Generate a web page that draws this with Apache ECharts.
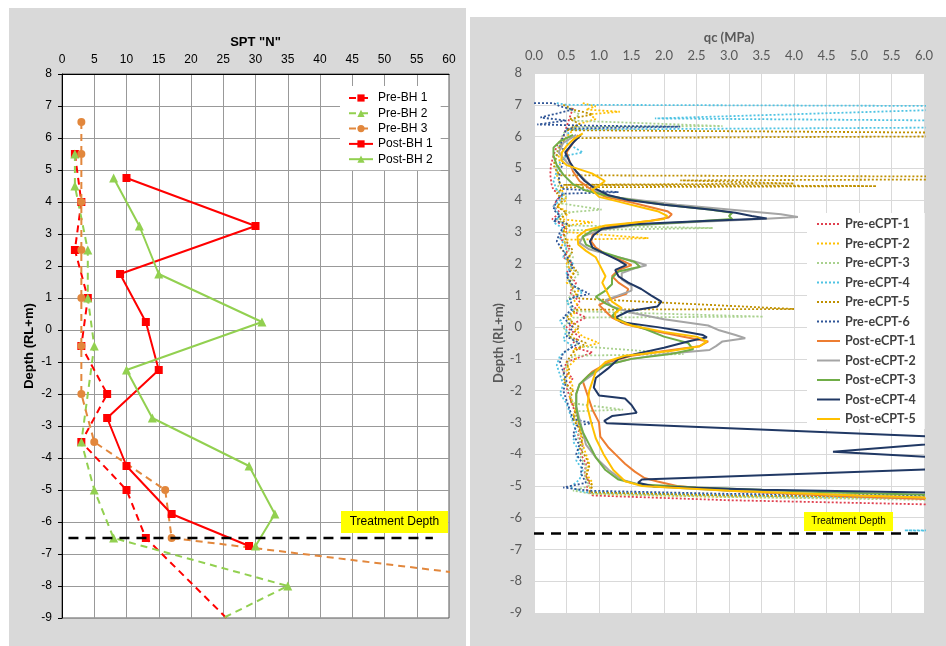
<!DOCTYPE html>
<html>
<head>
<meta charset="utf-8">
<script src="https://cdn.jsdelivr.net/npm/echarts@6/dist/echarts.min.js"></script>
<style>
  html, body { margin: 0; padding: 0; background: #fff; }
  #wrap { position: relative; width: 946px; height: 646px; overflow: hidden; }
  .panel { position: absolute; background: #d9d9d9; }
  #main { position: absolute; left: 0; top: 0; width: 946px; height: 646px; }
</style>
</head>
<body>
<div id="wrap">
  <div class="panel" style="left:9px;top:8px;width:457px;height:638px"></div>
  <div class="panel" style="left:470px;top:17px;width:476px;height:629px"></div>
  <div id="main"></div>
</div>
<script>
// ---- left chart: SPT "N" vs depth, points are [N, depth]
const sptTicks = [0, 5, 10, 15, 20, 25, 30, 35, 40, 45, 50, 55, 60]
const depthTicks = [8, 7, 6, 5, 4, 3, 2, 1, 0, -1, -2, -3, -4, -5, -6, -7, -8, -9]
const preBh1 = [[2, 5.5], [3, 4.0], [2, 2.5], [4, 1.0], [3, -0.5], [7, -2.0], [3, -3.5], [10, -5.0], [13, -6.5], [28, -9.5]]
const preBh2 = [[2, 5.5], [2, 4.5], [4, 2.5], [4, 1.0], [5, -0.5], [3, -3.5], [5, -5.0], [8, -6.5], [35, -8.0], [20, -9.5]]
const preBh3 = [[3, 6.5], [3, 5.5], [3, 4.0], [3, 2.5], [3, 1.0], [3, -0.5], [3, -2.0], [5, -3.5], [16, -5.0], [17, -6.5], [78, -8.0]]
const postBh1 = [[10, 4.75], [30, 3.25], [9, 1.75], [13, 0.25], [15, -1.25], [7, -2.75], [10, -4.25], [17, -5.75], [29, -6.75]]
const postBh2 = [[8, 4.75], [12, 3.25], [15, 1.75], [31, 0.25], [10, -1.25], [14, -2.75], [29, -4.25], [33, -5.75], [30, -6.75]]
const sptTreatment = [[1, -6.5], [57.5, -6.5]]

// ---- right chart: qc (MPa) vs depth, points are [qc, depth]
const qcTicks = [0, 0.5, 1, 1.5, 2, 2.5, 3, 3.5, 4, 4.5, 5, 5.5, 6]
const preCpt1 = [[0.6, 6.9], [0.55, 6.6], [0.5, 6.3], [0.45, 6.0], [0.35, 5.7], [0.3, 5.4], [0.26, 5.1], [0.25, 4.8], [0.27, 4.5], [0.3, 4.3], [0.45, 4.2], [0.35, 4.0], [0.3, 3.8], [0.4, 3.6], [0.28, 3.4], [0.45, 3.2], [0.5, 3.0], [0.4, 2.8], [0.55, 2.5], [0.45, 2.2], [0.6, 2.0], [0.5, 1.7], [0.65, 1.4], [0.55, 1.1], [0.7, 0.8], [0.6, 0.5], [0.8, 0.3], [0.5, 0.0], [0.7, -0.3], [0.55, -0.6], [0.9, -0.8], [0.5, -1.1], [0.45, -1.4], [0.6, -1.6], [0.5, -1.9], [0.55, -2.2], [0.6, -2.5], [0.65, -2.8], [0.7, -3.1], [0.68, -3.4], [0.75, -3.7], [0.72, -4.0], [0.8, -4.3], [0.78, -4.6], [0.85, -4.9], [0.8, -5.1], [0.9, -5.3], [3, -5.45], [6.5, -5.6]]
const preCpt2 = [[0.75, 7.05], [0.95, 6.95], [0.8, 6.85], [1.32, 6.78], [0.85, 6.7], [0.95, 6.55], [0.7, 6.4], [0.6, 6.2], [0.5, 6.0], [0.42, 5.7], [0.38, 5.4], [0.4, 5.1], [0.35, 4.8], [0.4, 4.5], [0.45, 4.2], [0.5, 4.0], [0.35, 3.8], [0.55, 3.6], [0.4, 3.4], [0.9, 3.3], [0.5, 3.2], [0.45, 3.0], [1.76, 2.8], [0.5, 2.75], [0.4, 2.5], [0.55, 2.2], [0.5, 2.0], [0.6, 1.7], [0.5, 1.4], [0.7, 1.2], [0.6, 0.9], [0.7, 0.6], [0.55, 0.3], [0.6, 0.0], [0.75, -0.3], [1.0, -0.5], [0.6, -0.7], [0.65, -1.0], [0.5, -1.3], [0.55, -1.6], [0.6, -1.9], [0.55, -2.2], [0.65, -2.5], [0.6, -2.8], [0.7, -3.1], [0.72, -3.4], [0.75, -3.7], [0.8, -4.0], [0.85, -4.3], [0.8, -4.6], [0.9, -4.9], [0.85, -5.1], [0.9, -5.25], [3, -5.35], [6.5, -5.4]]
const preCpt3 = [[0.5, 6.9], [0.7, 6.7], [0.6, 6.5], [2.9, 6.33], [0.6, 6.3], [0.45, 6.1], [0.4, 5.8], [0.35, 5.5], [0.33, 5.2], [0.35, 4.9], [0.4, 4.6], [0.35, 4.3], [0.5, 4.1], [0.4, 3.9], [1.04, 3.7], [0.45, 3.6], [0.35, 3.4], [0.5, 3.2], [2.75, 3.12], [0.55, 3.05], [0.45, 2.8], [0.5, 2.5], [0.6, 2.2], [0.5, 1.9], [0.7, 1.7], [0.55, 1.4], [0.6, 1.1], [0.5, 0.8], [0.65, 0.5], [3.53, 0.33], [0.6, 0.3], [0.45, 0.0], [0.55, -0.3], [0.7, -0.6], [2.3, -0.85], [0.6, -0.9], [0.5, -1.2], [0.45, -1.5], [0.5, -1.8], [0.55, -2.1], [0.6, -2.4], [1.37, -2.6], [0.65, -2.65], [0.62, -2.9], [0.7, -3.2], [0.68, -3.5], [0.75, -3.8], [0.72, -4.1], [0.8, -4.4], [0.78, -4.7], [0.85, -5.0], [0.6, -5.15], [0.9, -5.25], [3, -5.35], [6.5, -5.45]]
const preCpt4 = [[0.35, 7.05], [0.5, 7.0], [8, 6.95], [1.86, 6.57], [8, 6.48], [8, 6.3], [0.5, 6.22], [0.55, 6.0], [0.5, 5.8], [0.75, 5.5], [0.5, 5.4], [0.4, 5.2], [0.35, 4.9], [0.3, 4.6], [0.35, 4.3], [0.45, 4.2], [0.4, 4.0], [0.3, 3.8], [0.4, 3.5], [0.3, 3.3], [0.45, 3.1], [0.4, 2.8], [0.5, 2.5], [0.45, 2.2], [0.6, 2.0], [0.5, 1.7], [0.55, 1.4], [0.75, 1.1], [0.5, 0.8], [0.6, 0.5], [0.4, 0.2], [0.5, -0.1], [0.45, -0.4], [0.6, -0.6], [0.4, -0.9], [0.35, -1.2], [0.4, -1.5], [0.45, -1.8], [0.4, -2.1], [0.5, -2.4], [0.55, -2.7], [0.6, -3.0], [0.65, -3.3], [0.6, -3.6], [0.7, -3.9], [0.65, -4.2], [0.75, -4.5], [0.7, -4.8], [0.55, -5.05], [0.8, -5.2], [3, -5.3], [6.5, -5.4], [8, -6.38], [5.7, -6.4], [8, -6.45]]
const preCpt5 = [[0.45, 7.0], [0.6, 6.85], [0.9, 6.7], [0.55, 6.55], [0.7, 6.4], [0.5, 6.2], [8, 6.1], [8, 6.02], [0.5, 5.95], [0.4, 5.7], [0.35, 5.4], [0.3, 5.1], [0.35, 4.9], [0.4, 4.78], [8, 4.73], [8, 4.66], [2.25, 4.62], [4.0, 4.52], [0.45, 4.48], [5.27, 4.44], [0.45, 4.4], [0.35, 4.2], [0.45, 4.0], [0.35, 3.8], [0.5, 3.6], [0.4, 3.4], [0.55, 3.2], [0.45, 3.0], [0.5, 2.7], [0.6, 2.4], [0.5, 2.1], [0.65, 1.8], [0.55, 1.5], [0.6, 1.2], [0.7, 0.9], [4.0, 0.57], [0.65, 0.55], [0.5, 0.3], [0.7, 0.0], [0.55, -0.3], [0.8, -0.5], [0.6, -0.8], [0.5, -1.1], [0.55, -1.4], [0.45, -1.7], [0.6, -2.0], [0.55, -2.3], [0.65, -2.6], [0.6, -2.9], [0.7, -3.2], [0.75, -3.5], [0.7, -3.8], [0.8, -4.1], [0.85, -4.4], [0.8, -4.7], [0.9, -5.0], [0.85, -5.2], [3, -5.3], [6.5, -5.35]]
const preCpt6 = [[0.0, 7.05], [0.3, 7.05], [0.4, 6.95], [0.6, 6.85], [0.3, 6.7], [0.1, 6.6], [0.5, 6.5], [0.05, 6.38], [0.9, 6.34], [2.25, 6.31], [0.5, 6.25], [0.45, 6.0], [0.4, 5.7], [0.5, 5.5], [0.45, 5.2], [0.4, 4.9], [0.38, 4.6], [0.45, 4.35], [1.3, 4.25], [0.45, 4.2], [0.35, 4.0], [0.3, 3.7], [0.4, 3.5], [0.3, 3.35], [0.5, 3.25], [0.4, 3.0], [0.35, 2.7], [0.45, 2.4], [0.55, 2.1], [0.6, 1.9], [0.5, 1.6], [0.6, 1.3], [0.85, 1.05], [0.55, 0.9], [0.6, 0.6], [0.45, 0.3], [0.6, 0.0], [0.5, -0.3], [0.7, -0.5], [0.45, -0.8], [0.4, -1.1], [0.45, -1.4], [0.5, -1.7], [0.45, -2.0], [0.5, -2.3], [0.55, -2.6], [0.6, -2.9], [0.9, -3.02], [0.65, -3.1], [0.6, -3.4], [0.7, -3.7], [0.65, -4.0], [0.75, -4.3], [0.72, -4.6], [0.8, -4.9], [0.45, -5.05], [0.85, -5.15], [3, -5.25], [6.5, -5.3]]
const postCpt1 = [[0.68, 6.05], [0.6, 5.8], [0.5, 5.5], [0.55, 5.2], [0.6, 4.9], [0.7, 4.6], [0.9, 4.3], [1.1, 4.1], [1.45, 3.95], [1.75, 3.8], [2.05, 3.65], [2.12, 3.55], [2.07, 3.45], [1.8, 3.35], [1.4, 3.25], [1.0, 3.1], [0.9, 2.9], [0.88, 2.7], [0.95, 2.5], [1.1, 2.3], [1.35, 2.1], [1.5, 1.95], [1.3, 1.8], [1.2, 1.6], [1.3, 1.4], [1.45, 1.2], [1.42, 1.05], [1.2, 0.9], [1.0, 0.7], [1.1, 0.5], [1.2, 0.3], [1.4, 0.1], [1.8, -0.1], [2.3, -0.3], [2.68, -0.45], [2.55, -0.6], [2.0, -0.75], [1.5, -0.9], [1.15, -1.1], [0.9, -1.4], [0.75, -1.7], [0.8, -2.0], [0.85, -2.3], [0.9, -2.6], [1.0, -3.0], [1.02, -3.45], [1.15, -3.8], [1.3, -4.1], [1.4, -4.3], [1.55, -4.55], [1.7, -4.75], [1.9, -4.86], [2.2, -5.0], [3.0, -5.15], [4.5, -5.3], [6.5, -5.45]]
const postCpt2 = [[0.65, 6.05], [0.45, 5.8], [0.38, 5.5], [0.5, 5.2], [0.65, 4.9], [0.8, 4.6], [0.95, 4.3], [1.2, 4.1], [1.6, 4.0], [2.2, 3.85], [3.0, 3.7], [3.8, 3.55], [4.06, 3.47], [3.5, 3.4], [2.4, 3.3], [1.5, 3.2], [1.0, 3.05], [0.75, 2.85], [0.7, 2.65], [0.85, 2.45], [1.2, 2.25], [1.5, 2.1], [1.73, 1.95], [1.55, 1.85], [1.35, 1.7], [1.35, 1.5], [1.5, 1.3], [1.5, 1.15], [1.3, 1.0], [1.1, 0.85], [1.2, 0.65], [1.5, 0.45], [2.0, 0.25], [2.68, 0.05], [2.85, -0.1], [3.1, -0.25], [3.25, -0.35], [2.9, -0.45], [2.8, -0.6], [2.7, -0.72], [2.0, -0.85], [1.5, -1.0], [1.1, -1.2], [0.9, -1.5], [0.7, -1.8], [0.65, -2.1], [0.65, -2.5], [0.7, -2.9], [0.75, -3.3], [0.8, -3.7], [0.95, -4.1], [1.15, -4.5], [1.35, -4.8], [1.7, -5.0], [3.0, -5.15], [5.0, -5.3], [6.5, -5.4]]
const postCpt3 = [[0.6, 6.05], [0.4, 5.85], [0.3, 5.65], [0.3, 5.4], [0.35, 5.1], [0.45, 4.8], [0.6, 4.5], [0.8, 4.3], [1.1, 4.15], [1.5, 4.0], [2.0, 3.85], [2.7, 3.7], [3.05, 3.6], [3.0, 3.5], [3.05, 3.4], [2.3, 3.3], [1.4, 3.2], [0.9, 3.05], [0.75, 2.85], [0.8, 2.6], [1.0, 2.4], [1.3, 2.2], [1.55, 2.05], [1.63, 1.9], [1.3, 1.75], [1.2, 1.55], [1.2, 1.35], [1.1, 1.15], [0.95, 0.95], [1.1, 0.75], [1.3, 0.55], [1.2, 0.35], [1.4, 0.15], [1.7, -0.05], [2.0, -0.3], [2.37, -0.5], [2.45, -0.7], [2.1, -0.85], [1.5, -1.0], [1.1, -1.2], [0.85, -1.5], [0.7, -1.8], [0.65, -2.1], [0.65, -2.5], [0.68, -2.9], [0.75, -3.3], [0.85, -3.7], [0.95, -4.1], [1.1, -4.5], [1.3, -4.8], [1.6, -4.95], [2.5, -5.05], [4.5, -5.2], [6.5, -5.3]]
const postCpt4 = [[0.72, 6.05], [0.6, 5.8], [0.48, 5.5], [0.55, 5.2], [0.65, 4.9], [0.78, 4.6], [0.95, 4.35], [1.15, 4.15], [1.45, 4.0], [2.0, 3.85], [2.7, 3.7], [3.1, 3.6], [3.35, 3.5], [3.58, 3.42], [2.7, 3.35], [1.6, 3.25], [1.05, 3.1], [0.92, 2.9], [0.86, 2.7], [0.9, 2.5], [1.1, 2.3], [1.3, 2.1], [1.42, 1.95], [1.25, 1.8], [1.3, 1.6], [1.45, 1.4], [1.65, 1.2], [1.8, 1.0], [1.96, 0.8], [1.9, 0.65], [1.45, 0.5], [1.25, 0.3], [1.35, 0.15], [1.9, 0.0], [2.2, -0.1], [2.6, -0.25], [2.66, -0.32], [2.37, -0.45], [2.0, -0.65], [1.55, -0.85], [1.3, -1.0], [1.14, -1.3], [0.95, -1.6], [0.92, -1.9], [1.0, -2.15], [1.4, -2.25], [1.5, -2.45], [1.58, -2.7], [1.2, -2.8], [1.08, -2.95], [1.12, -3.03], [6.5, -3.48], [6.5, -3.62], [4.6, -3.92], [6.5, -4.14], [6.5, -4.45], [1.66, -4.8], [1.6, -4.9], [1.85, -5.02], [3.5, -5.12], [6.5, -5.22]]
const postCpt5 = [[0.75, 6.1], [0.6, 5.9], [0.5, 5.7], [0.43, 5.5], [0.42, 5.25], [0.5, 5.1], [0.89, 4.84], [1.09, 4.6], [1.0, 4.45], [0.89, 4.32], [1.0, 4.1], [1.3, 3.95], [1.6, 3.8], [1.9, 3.65], [2.05, 3.5], [2.0, 3.4], [1.6, 3.3], [1.1, 3.2], [0.8, 3.05], [0.67, 2.85], [0.68, 2.6], [0.8, 2.4], [0.95, 2.2], [1.0, 2.0], [1.05, 1.8], [1.1, 1.6], [1.05, 1.4], [1.1, 1.2], [1.15, 1.0], [1.2, 0.8], [1.35, 0.6], [1.25, 0.45], [1.25, 0.25], [1.5, 0.05], [2.0, -0.15], [2.5, -0.3], [2.66, -0.45], [2.55, -0.6], [2.1, -0.75], [1.4, -0.9], [1.1, -1.1], [0.95, -1.4], [0.9, -1.7], [0.85, -2.0], [0.82, -2.5], [0.88, -3.0], [0.95, -3.5], [1.07, -4.0], [1.22, -4.5], [1.4, -4.85], [1.66, -5.0], [3.0, -5.15], [5.0, -5.3], [6.5, -5.4]]
const qcTreatment = [[0, -6.5], [6, -6.5]]

const leftFont = "'Liberation Sans', Arial, sans-serif"
const rightFont = "Lato, 'Open Sans', sans-serif"

const leftDefs = [
  ["Pre-BH 1", preBh1, "#ff0000", "rect", "dashed"],
  ["Pre-BH 2", preBh2, "#92d050", "triangle", "dashed"],
  ["Pre-BH 3", preBh3, "#e2873c", "circle", "dashed"],
  ["Post-BH 1", postBh1, "#ff0000", "rect", "solid"],
  ["Post-BH 2", postBh2, "#92d050", "triangle", "solid"],
]
const rightDefs = [
  ["Pre-eCPT-1", preCpt1, "#e0404f", "dotted"],
  ["Pre-eCPT-2", preCpt2, "#ffc000", "dotted"],
  ["Pre-eCPT-3", preCpt3, "#a9d18e", "dotted"],
  ["Pre-eCPT-4", preCpt4, "#4fc3e3", "dotted"],
  ["Pre-eCPT-5", preCpt5, "#bf9000", "dotted"],
  ["Pre-eCPT-6", preCpt6, "#2f5597", "dotted"],
  ["Post-eCPT-1", postCpt1, "#ed7d31", "solid"],
  ["Post-eCPT-2", postCpt2, "#a5a5a5", "solid"],
  ["Post-eCPT-3", postCpt3, "#70ad47", "solid"],
  ["Post-eCPT-4", postCpt4, "#203864", "solid"],
  ["Post-eCPT-5", postCpt5, "#ffc000", "solid"],
]

const leftSeries = leftDefs.map(([name, data, color, symbol, type]) => ({
  name, type: "line", xAxisIndex: 0, yAxisIndex: 0, data,
  symbol, symbolSize: symbol === "triangle" ? 9 : 8,
  itemStyle: { color },
  lineStyle: { color, width: 2, type: type === "dashed" ? [7, 5] : "solid" },
  clip: true,
}))
const rightSeries = rightDefs.map(([name, data, color, type]) => ({
  name, type: "line", xAxisIndex: 1, yAxisIndex: 1, data,
  showSymbol: false, symbol: "none",
  itemStyle: { color },
  lineStyle: { color, width: type === "dotted" ? 1.8 : 2, type: type === "dotted" ? [2, 2] : "solid" },
  clip: true,
}))
const treatSeries = [[0, sptTreatment], [1, qcTreatment]].map(([i, data]) => ({
  type: "line", xAxisIndex: i, yAxisIndex: i, data, symbol: "none", silent: true,
  lineStyle: { color: "#000", width: 2.5, type: [10, 7] }, z: 5,
}))

const myChart = echarts.init(document.getElementById("main"))
myChart.setOption({
  animation: false,
  grid: [
    { left: 62, top: 74, width: 387, height: 544, show: true, backgroundColor: "#fff", borderColor: "#595959", borderWidth: 1 },
    { left: 534, top: 73, width: 390, height: 540, show: true, backgroundColor: "#fff", borderWidth: 0 },
  ],
  xAxis: [
    {
      gridIndex: 0, type: "value", position: "top", min: 0, max: 60, interval: 5,
      name: 'SPT "N"', nameLocation: "middle", nameGap: 25,
      nameTextStyle: { fontFamily: leftFont, fontSize: 13, fontWeight: "bold", color: "#000" },
      axisLine: { show: true, onZero: false, lineStyle: { color: "#000" } },
      axisTick: { show: false },
      axisLabel: { fontFamily: leftFont, fontSize: 12, color: "#000", margin: 8, formatter: v => sptTicks.includes(v) ? String(v) : "" },
      splitLine: { lineStyle: { color: "#999" } },
    },
    {
      gridIndex: 1, type: "value", position: "top", min: 0, max: 6, interval: 0.5,
      name: "qc (MPa)", nameLocation: "middle", nameGap: 29,
      nameTextStyle: { fontFamily: rightFont, fontSize: 13, fontWeight: "bold", color: "#595959" },
      axisLine: { show: false, onZero: false }, axisTick: { show: false },
      axisLabel: { fontFamily: rightFont, fontSize: 13, color: "#595959", margin: 11, formatter: v => qcTicks.includes(v) ? v.toFixed(1) : "" },
      splitLine: { lineStyle: { color: "#d9d9d9" } },
    },
  ],
  yAxis: [
    {
      gridIndex: 0, type: "value", min: -9, max: 8, interval: 1,
      name: "Depth (RL+m)", nameLocation: "middle", nameGap: 26,
      nameTextStyle: { fontFamily: leftFont, fontSize: 13, fontWeight: "bold", color: "#000" },
      axisLine: { show: true, onZero: false, lineStyle: { color: "#000" } },
      axisTick: { show: true, inside: false, length: 4, lineStyle: { color: "#000" } },
      axisLabel: { fontFamily: leftFont, fontSize: 12, color: "#000", margin: 10, formatter: v => depthTicks.includes(v) ? String(v) : "" },
      splitLine: { lineStyle: { color: "#999" } },
    },
    {
      gridIndex: 1, type: "value", min: -9, max: 8, interval: 1,
      name: "Depth (RL+m)", nameLocation: "middle", nameGap: 27,
      nameTextStyle: { fontFamily: rightFont, fontSize: 13, fontWeight: "bold", color: "#595959" },
      axisLine: { show: false, onZero: false }, axisTick: { show: false },
      axisLabel: { fontFamily: rightFont, fontSize: 13, color: "#595959", margin: 12, formatter: v => depthTicks.includes(v) ? String(v) : "" },
      splitLine: { lineStyle: { color: "#d9d9d9" } },
    },
  ],
  legend: [
    {
      data: leftDefs.map(d => d[0]), orient: "vertical", left: 340, top: 86,
      backgroundColor: "#fff", padding: [5, 8, 4, 8], itemWidth: 24, itemHeight: 9, itemGap: 1.3,
      textStyle: { fontFamily: leftFont, fontSize: 12, color: "#000", lineHeight: 14 },
      selectedMode: false,
    },
    {
      data: rightDefs.map(d => d[0]), orient: "vertical", left: 807, top: 213,
      backgroundColor: "#fff", padding: [3, 9, 2, 9], itemWidth: 23, itemHeight: 10, itemGap: 3.5,
      itemStyle: { color: "rgba(0,0,0,0)", borderWidth: 0, opacity: 0 },
      textStyle: { fontFamily: rightFont, fontSize: 12.5, fontWeight: "bold", color: "#404040", lineHeight: 16 },
      selectedMode: false,
    },
  ],
  graphic: [
    { type: "rect", shape: { x: 341, y: 511, width: 107, height: 22 }, style: { fill: "#ffff00" }, z: 100 },
    { type: "text", x: 394.5, y: 522, style: { text: "Treatment Depth", fill: "#000", font: "12px " + leftFont, align: "center", verticalAlign: "middle" }, z: 101 },
    { type: "rect", shape: { x: 804, y: 512, width: 89, height: 19 }, style: { fill: "#ffff00" }, z: 100 },
    { type: "text", x: 848.5, y: 521.5, style: { text: "Treatment Depth", fill: "#000", font: "10px " + leftFont, align: "center", verticalAlign: "middle" }, z: 101 },
  ],
  series: [...leftSeries, ...rightSeries, ...treatSeries],
})
</script>
</body>
</html>
